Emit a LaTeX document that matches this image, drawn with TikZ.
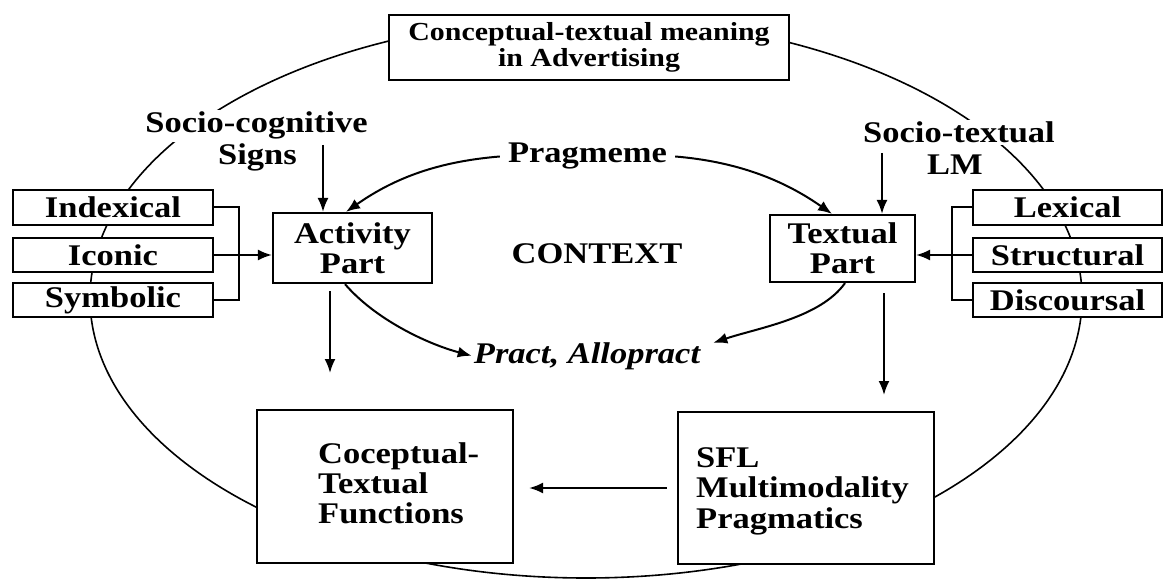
\documentclass[tikz,border=0pt]{standalone}
\usepackage{fontspec}
\setmainfont{Liberation Serif}[FakeStretch=1.15]
\usetikzlibrary{arrows.meta,calc}
\begin{document}
\begin{tikzpicture}[x=1pt,y=-1pt,
  box/.style={draw,line width=2.2pt,fill=white,inner sep=0pt},
  lbl/.style={font=\bfseries\fontsize{30}{30}\selectfont,inner sep=0pt,align=center},
  wlbl/.style={lbl,fill=white,inner sep=2pt,anchor=base},
  arr/.style={line width=2pt,-{Latex[length=14pt,width=11pt]}},
  ln/.style={line width=1.6pt}]
\useasboundingbox (0,0) rectangle (1164,580);
\fill[white] (0,0) rectangle (1164,580);
% outer ellipse
\draw[ln] (586,298) ellipse [x radius=496, y radius=280];
% top box
\node[box,minimum width=400pt,minimum height=65pt,align=center,
      font=\bfseries\fontsize{26}{26}\selectfont] (top) at (589,47.5)
      {Conceptual-textual meaning\\in Advertising};
% labels
\node[wlbl] (soc1) at (256.5,133) {Socio-cognitive};
\node[wlbl] (soc2) at (257.5,165) {Signs};
\node[wlbl] (soct1) at (959,143) {Socio-textual};
\node[wlbl] (soct2) at (955,175) {LM};
\node[lbl,anchor=base,inner xsep=8pt] (prag) at (587.5,163) {Pragmeme};
\node[lbl,anchor=base] (ctx) at (597,263) {CONTEXT};
\node[lbl,anchor=base,inner sep=2pt,font=\bfseries\itshape\fontsize{30}{30}\selectfont] (pract) at (587,363) {Pract, Allopract};
% part boxes
\node[box,lbl,minimum width=159pt,minimum height=70pt] (act) at (352.5,248) {Activity\\Part};
\node[box,lbl,minimum width=145pt,minimum height=67pt] (txt) at (842.5,248.5) {Textual\\Part};
% left boxes
\node[box,lbl,minimum width=200pt,minimum height=35pt] (ind) at (113,207.5) {Indexical};
\node[box,lbl,minimum width=200pt,minimum height=34pt] (ico) at (113,255) {Iconic};
\node[box,lbl,minimum width=200pt,minimum height=34pt] (sym) at (113,300) {Symbolic};
% right boxes
\node[box,lbl,minimum width=189pt,minimum height=35pt] (lex) at (1067.5,207.5) {Lexical};
\node[box,lbl,minimum width=189pt,minimum height=34pt] (str) at (1067.5,255) {Structural};
\node[box,lbl,minimum width=189pt,minimum height=34pt] (dis) at (1067.5,300) {Discoursal};
% bottom boxes
\node[box,minimum width=256pt,minimum height=153pt] (cop) at (385,486.5) {};
\node[lbl,align=left,anchor=north west] (copt) at (318,442.5) {Coceptual-\\Textual\\Functions};
\node[box,minimum width=256pt,minimum height=152pt] (sfl) at (806,488) {};
\node[lbl,align=left,anchor=north west,font=\bfseries\fontsize{30}{30.5}\selectfont] (sflt) at (696,447) {SFL\\Multimodality\\Pragmatics};
% connectors
\coordinate (socA) at (323,145);
\draw[arr] (socA) -- (socA |- act.north);
\coordinate (soctA) at (882,153);
\draw[arr] (soctA) -- (soctA |- txt.north);
\draw[arr] (prag.west) .. controls +(-60,5) and +(50,-35) .. ([xshift=-6.5pt]act.north);
\draw[arr] (prag.east) .. controls +(60,5) and +(-50,-35) .. ([xshift=-10.5pt]txt.north);
\draw[arr] ([xshift=-7.5pt]act.south) .. controls +(30,35) and +(-45,-12) .. (pract.west);
\draw[arr] ([xshift=2.5pt]txt.south) .. controls +(-25,35) and +(45,-15) .. ($(pract.east)+(11,-13)$);
\coordinate (actD) at (330,373);
\draw[arr,shorten <=7pt] (act.south -| actD) -- (actD);
\coordinate (txtD) at (884,395);
\draw[arr,shorten <=10pt] (txt.south -| txtD) -- (txtD);
\draw[arr,shorten <=10pt,shorten >=15pt] (sfl.west) -- (sfl.west -| cop.east);
% brackets
\draw[line width=2pt] (ind.east) -- ++(25,0) |- (sym.east);
\draw[arr] (ico.east) -- (ico.east -| act.west);
\draw[line width=2pt] (lex.west) -- ++(-20,0) |- (dis.west);
\draw[arr] (str.west) -- (str.west -| txt.east);
\end{tikzpicture}
\end{document}
